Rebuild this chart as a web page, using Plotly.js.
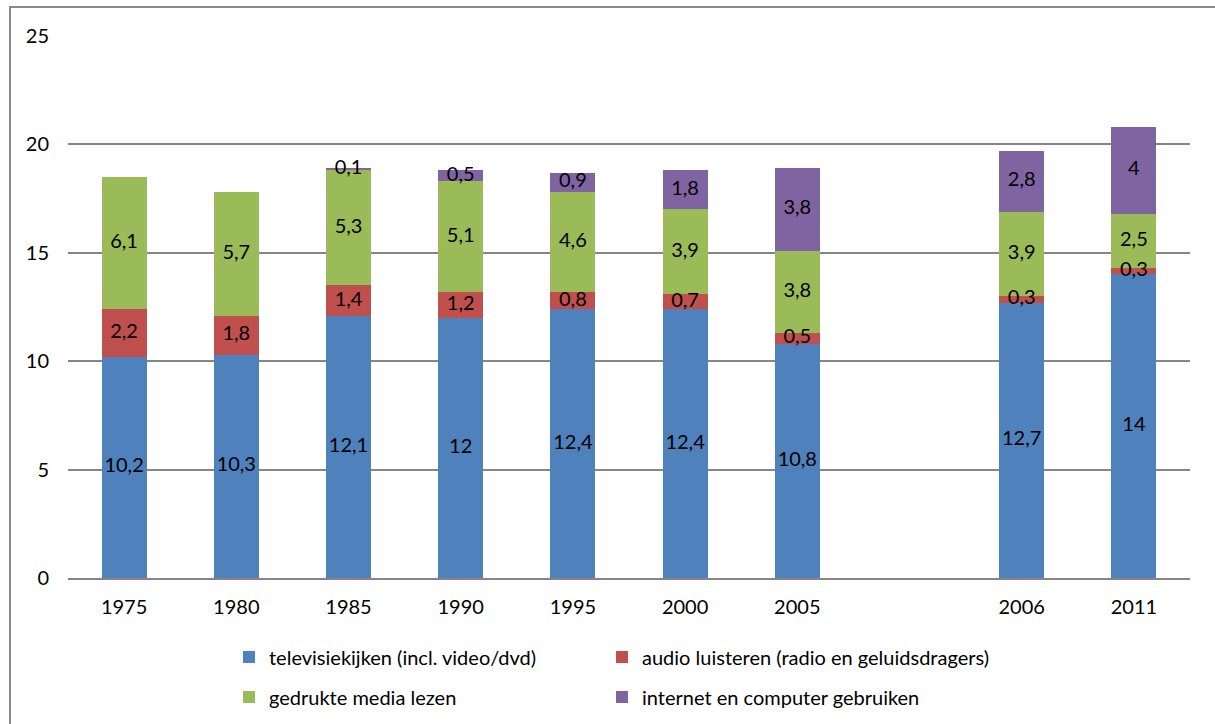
<!DOCTYPE html>
<html>
<head>
<meta charset="utf-8">
<script src="https://cdn.plot.ly/plotly-3.0.1.min.js"></script>
<style>
  html, body { margin: 0; padding: 0; background: #fff; overflow: hidden; width: 1215px; height: 724px; }
  #chart { width: 1215px; height: 724px; position: absolute; left: 0; top: 0; }
  #frameTop { position: absolute; left: 9px; top: 6px; width: 1206px; height: 2px; background: #898989; z-index: 5; }
  #frameLeft { position: absolute; left: 9px; top: 6px; width: 2px; height: 718px; background: #898989; z-index: 5; }
</style>
</head>
<body>
<div id="chart"></div>
<div id="frameTop"></div>
<div id="frameLeft"></div>
<script>
const years = ['1975', '1980', '1985', '1990', '1995', '2000', '2005', ' ', '2006', '2011'];
const tv = [10.2, 10.3, 12.1, 12, 12.4, 12.4, 10.8, null, 12.7, 14];
const audio = [2.2, 1.8, 1.4, 1.2, 0.8, 0.7, 0.5, null, 0.3, 0.3];
const printed = [6.1, 5.7, 5.3, 5.1, 4.6, 3.9, 3.8, null, 3.9, 2.5];
const internet = [null, null, 0.1, 0.5, 0.9, 1.8, 3.8, null, 2.8, 4];

const seriesNames = [
  'televisiekijken (incl. video/dvd)',
  'audio luisteren (radio en geluidsdragers)',
  'gedrukte media lezen',
  'internet en computer gebruiken'
];
const seriesColors = ['#4F81BD', '#C0504D', '#9BBB59', '#8064A2'];
const seriesData = [tv, audio, printed, internet];
const legendIds = ['legend', 'legend2', 'legend3', 'legend4'];

const FONT = 'Lato, "Open Sans", sans-serif';
const FS = 20;
const fmt = v => String(v).replace('.', ',');

const traces = [];
seriesData.forEach((vals, i) => {
  traces.push({
    type: 'bar',
    x: years,
    y: vals,
    name: seriesNames[i],
    marker: { color: seriesColors[i] },
    width: 0.4,
    legend: legendIds[i],
    hoverinfo: 'skip'
  });
});

// data labels, centred on each stacked segment (positions from the data)
const cum = years.map(() => 0);
seriesData.forEach((vals) => {
  const xs = [], ys = [], ts = [];
  vals.forEach((v, j) => {
    if (v !== null && v !== undefined) {
      xs.push(years[j]);
      ys.push(cum[j] + v / 2);
      ts.push(fmt(v));
      cum[j] += v;
    }
  });
  traces.push({
    type: 'scatter',
    mode: 'text',
    x: xs,
    y: ys,
    text: ts,
    textposition: 'middle center',
    textfont: { family: FONT, size: FS, color: '#000' },
    showlegend: false,
    hoverinfo: 'skip',
    cliponaxis: false
  });
});

const legendBase = {
  orientation: 'h',
  xref: 'container',
  yref: 'container',
  xanchor: 'left',
  yanchor: 'middle',
  font: { family: FONT, size: FS, color: '#000' },
  bgcolor: 'rgba(0,0,0,0)'
};
const mkLegend = (px, py) => Object.assign({}, legendBase, { x: px / 1215, y: 1 - py / 724 });

const layout = {
  width: 1215,
  height: 724,
  margin: { l: 68, r: 25, t: 36, b: 146, autoexpand: false },
  paper_bgcolor: '#fff',
  plot_bgcolor: '#fff',
  barmode: 'stack',
  font: { family: FONT, size: FS, color: '#000' },
  xaxis: {
    type: 'category',
    categoryorder: 'array',
    categoryarray: years,
    showgrid: false,
    showline: true,
    linecolor: '#868686',
    linewidth: 2,
    ticks: '',
    ticklabelstandoff: 10,
    tickfont: { family: FONT, size: FS, color: '#000' },
    zeroline: false,
    fixedrange: true
  },
  yaxis: {
    range: [0, 25],
    dtick: 5,
    tick0: 0,
    showgrid: true,
    gridcolor: '#868686',
    gridwidth: 2,
    zeroline: false,
    showline: false,
    ticks: '',
    ticklabelstandoff: 18,
    tickfont: { family: FONT, size: FS, color: '#000' },
    fixedrange: true
  },
  showlegend: true,
  legend: mkLegend(229, 657),
  legend2: mkLegend(602, 657),
  legend3: mkLegend(229, 697),
  legend4: mkLegend(602, 697)
};

Plotly.newPlot('chart', traces, layout, { displayModeBar: false, staticPlot: true });
</script>
</body>
</html>
